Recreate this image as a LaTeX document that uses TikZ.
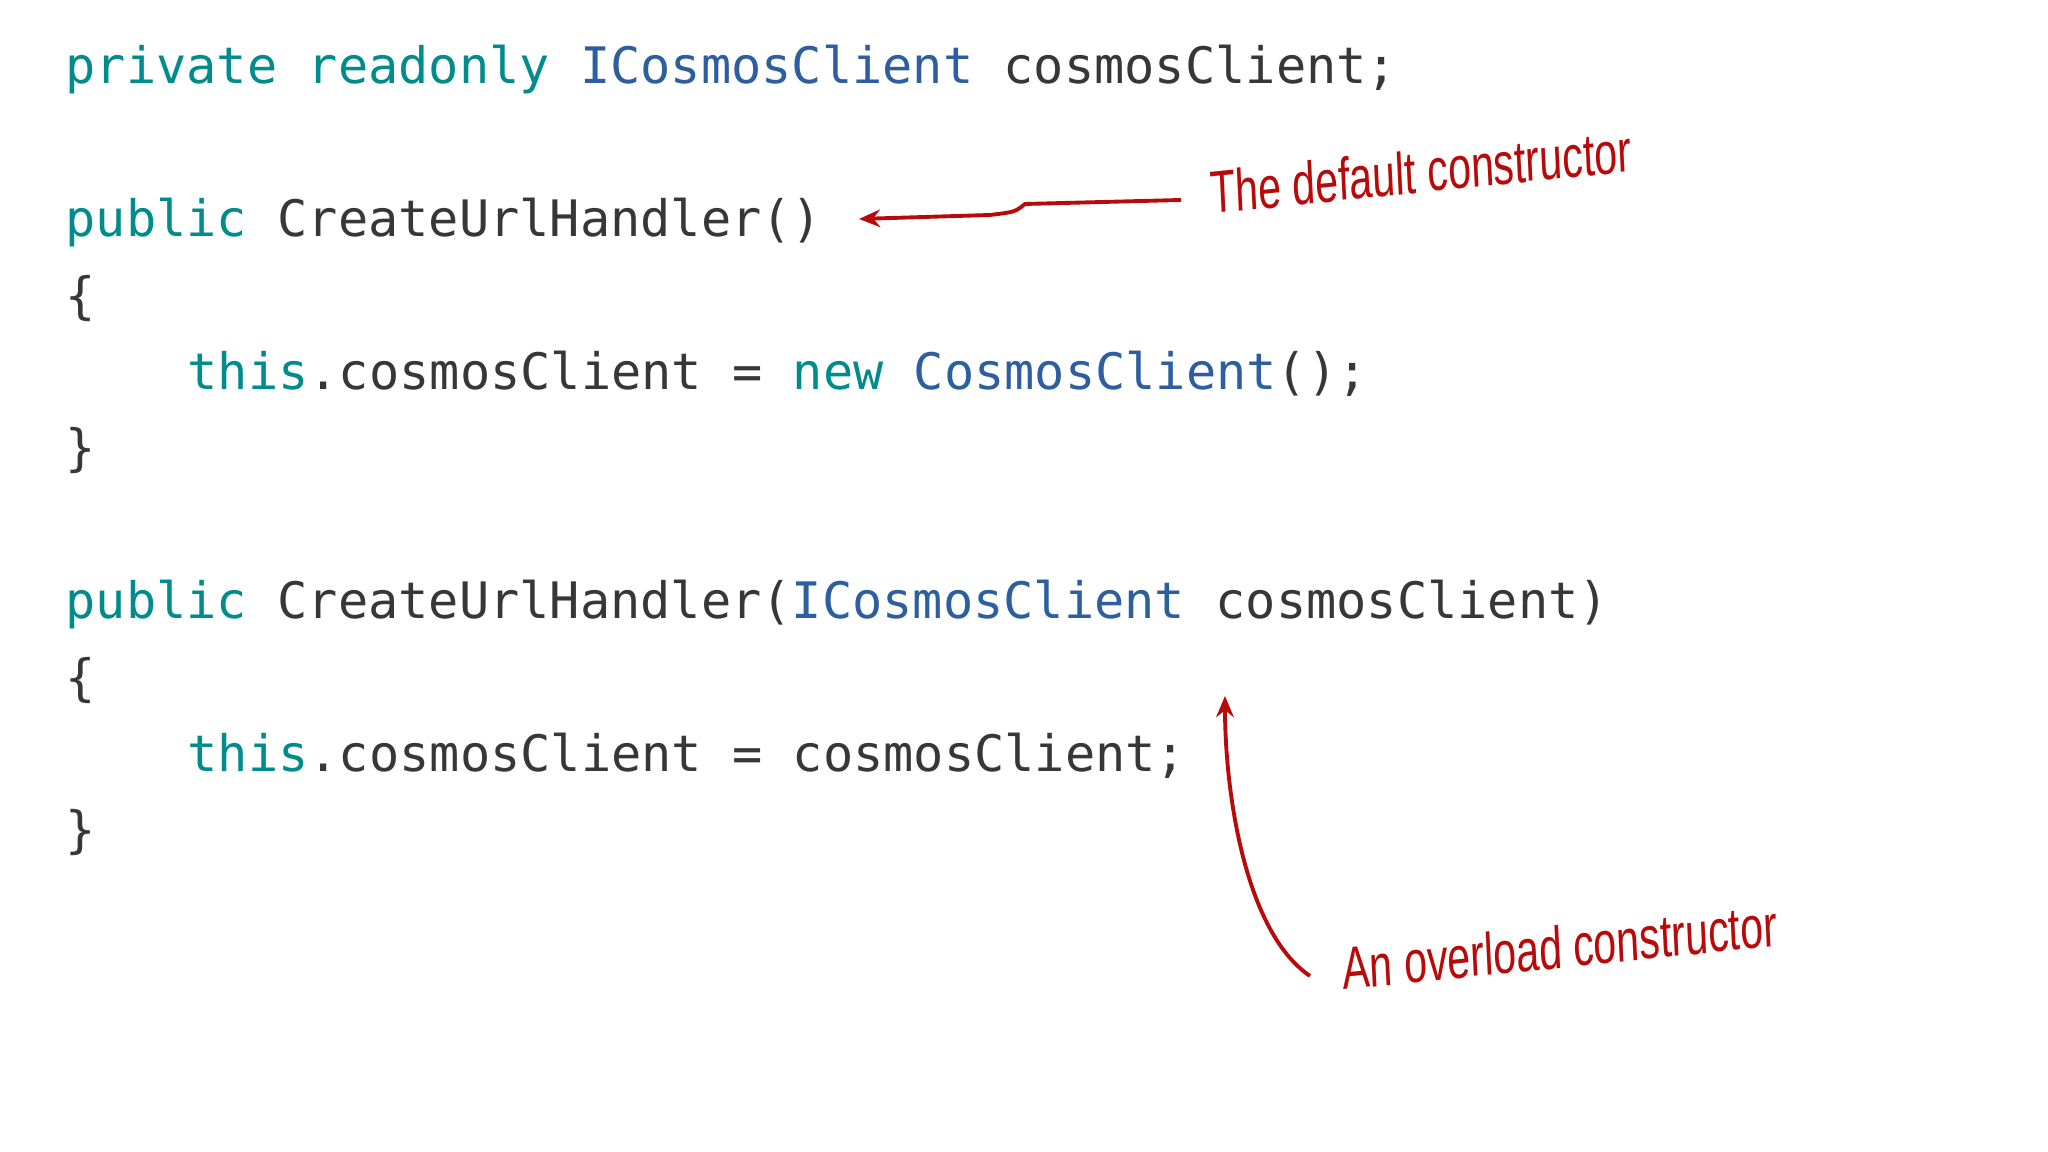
\documentclass[tikz,border=0pt]{standalone}
\usepackage{fontspec}
\usetikzlibrary{arrows.meta}
\setmainfont{Liberation Sans}
\newfontfamily\codefont{DejaVu Sans Mono}
\newfontfamily\notefont{Liberation Sans}
\definecolor{kw}{RGB}{0,140,140}
\definecolor{ty}{RGB}{45,95,160}
\definecolor{tx}{RGB}{55,55,55}
\definecolor{note}{RGB}{185,10,10}
\tikzset{code/.style={anchor=base west,inner sep=0pt,font=\codefont\fontsize{14.3}{16}\selectfont,text=tx},
 note/.style={anchor=base west,inner sep=0pt,font=\notefont\fontsize{17}{20}\selectfont,text=note,xscale=0.69},
 arr/.style={draw=note,line width=1.1pt,-{Stealth[length=6pt,width=5pt]}}}
\begin{document}
\begin{tikzpicture}[x=1cm,y=1cm]
\fill[white] (0,0) rectangle (20.48,11.52);
\useasboundingbox (0,0) rectangle (20.48,11.52);
\node[code] (l1) at (0.65,10.68) {\textcolor{kw}{private readonly} \textcolor{ty}{ICosmosClient} cosmosClient;};
\node[code] (l2) at (0.65,9.15) {\textcolor{kw}{public} CreateUrlHandler()};
\node[code] (l3) at (0.65,8.38) {\{};
\node[code] (l4) at (1.87,7.62) {\textcolor{kw}{this}.cosmosClient = \textcolor{kw}{new} \textcolor{ty}{CosmosClient}();};
\node[code] (l5) at (0.65,6.86) {\}};
\node[code] (l6) at (0.65,5.33) {\textcolor{kw}{public} CreateUrlHandler(\textcolor{ty}{ICosmosClient} cosmosClient)};
\node[code] (l7) at (0.65,4.56) {\{};
\node[code] (l8) at (1.87,3.80) {\textcolor{kw}{this}.cosmosClient = cosmosClient;};
\node[code] (l9) at (0.65,3.04) {\}};
\node[note,rotate=4] (n1) at (12.11,9.38) {The default constructor};
\node[note,rotate=4] (n2) at (13.43,1.62) {An overload constructor};
\coordinate (a1s) at (11.81,9.52);
\coordinate (a1e) at (8.59,9.33);
\coordinate (a2s) at (13.10,1.76);
\coordinate (a2e) at (12.25,4.56);
\draw[arr] (a1s) -- (10.25,9.48) .. controls (10.15,9.40) .. (9.9,9.37) -- (a1e);
\draw[arr] (a2s) .. controls (12.45,2.2) and (12.25,3.6) .. (a2e);
\end{tikzpicture}
\end{document}
